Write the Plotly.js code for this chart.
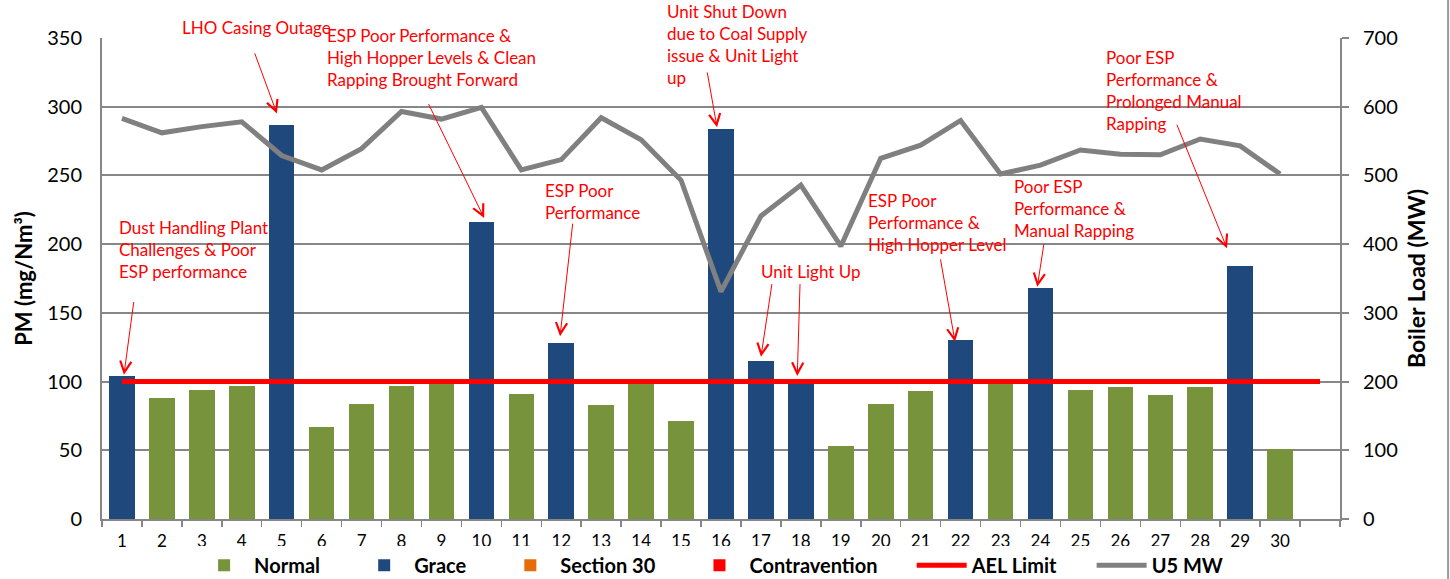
<!DOCTYPE html>
<html>
<head>
<meta charset="utf-8">
<script src="https://cdn.plot.ly/plotly-3.0.1.min.js"></script>
<style>
  html, body { margin: 0; padding: 0; background: #fff; }
  #plot { width: 1450px; height: 579px; }
</style>
</head>
<body>
<div id="plot"></div>
<script>
const days = [1, 2, 3, 4, 5, 6, 7, 8, 9, 10, 11, 12, 13, 14, 15, 16, 17, 18, 19, 20, 21, 22, 23, 24, 25, 26, 27, 28, 29, 30];

// PM (mg/Nm3) per day, split by compliance status
const normalPM = [null, 88, 94, 97, null, 67, 84, 97, 99, null, 91, null, 83, 98, 71, null, null, null, 53, 84, 93, null, 99, null, 94, 96, 90, 96, null, 51];
const gracePM = [104, null, null, null, 287, null, null, null, null, 216, null, 128, null, null, null, 284, 115, 102, null, null, null, 130, null, 168, null, null, null, null, 184, null];
const section30PM = days.map(() => null);
const contraventionPM = days.map(() => null);

// AEL limit runs one category past the last day
const aelDays = [1, 2, 3, 4, 5, 6, 7, 8, 9, 10, 11, 12, 13, 14, 15, 16, 17, 18, 19, 20, 21, 22, 23, 24, 25, 26, 27, 28, 29, 30, 31];
const aelLimit = [100, 100, 100, 100, 100, 100, 100, 100, 100, 100, 100, 100, 100, 100, 100, 100, 100, 100, 100, 100, 100, 100, 100, 100, 100, 100, 100, 100, 100, 100, 100];

// Unit 5 boiler load (MW)
const u5MW = [583, 562, 571, 578, 529, 508, 539, 593, 582, 599, 508, 523, 584, 552, 493, 331, 441, 486, 397, 525, 544, 580, 502, 515, 537, 531, 530, 553, 543, 502];

// event notes: text top-left (x in days, y in PM units) and arrow tail/head
const notes = [
  {text: 'Dust Handling Plant<br>Challenges & Poor<br>ESP performance', x: 0.88, y: 221, tail: [1.30, 159], head: [1.05, 105]},
  {text: 'LHO Casing Outage', x: 2.45, y: 367, tail: [4.31, 340], head: [4.88, 295]},
  {text: 'ESP Poor Performance &<br>High Hopper Levels & Clean<br>Rapping Brought Forward', x: 6.08, y: 361, tail: [8.66, 303], head: [10.07, 219]},
  {text: 'ESP Poor<br>Performance', x: 11.54, y: 248, tail: [12.29, 216], head: [11.97, 133]},
  {text: 'Unit Shut Down<br>due to Coal Supply<br>issue & Unit Light<br>up', x: 14.60, y: 378.5, tail: [15.65, 326], head: [15.90, 285]},
  {text: 'Unit Light Up', x: 16.95, y: 189, tail: [17.28, 172], head: [17.00, 118]},
  {text: '', x: null, y: null, tail: [17.98, 172], head: [17.91, 104]},
  {text: 'ESP Poor<br>Performance &<br>High Hopper Level', x: 19.63, y: 241, tail: [21.49, 190], head: [21.86, 129]},
  {text: 'Poor ESP<br>Performance &<br>Manual Rapping', x: 23.29, y: 251, tail: [24.09, 201], head: [23.92, 169]},
  {text: 'Poor ESP<br>Performance &<br>Prolonged Manual<br>Rapping', x: 25.59, y: 345, tail: [27.40, 288], head: [28.67, 197]}
];

const gridGrey = '#878787';
const font = 'Lato, "Open Sans", sans-serif';
const pad = '\u00a0\u00a0\u00a0\u00a0\u00a0\u00a0';

const data = [
  {x: days, y: normalPM, name: 'Normal' + pad, type: 'bar', marker: {color: '#77933C'}},
  {x: days, y: gracePM, name: 'Grace' + pad, type: 'bar', marker: {color: '#1F497D'}},
  {x: days, y: section30PM, name: 'Section 30' + pad, type: 'bar', marker: {color: '#E46C0A'}},
  {x: days, y: contraventionPM, name: 'Contravention' + pad, type: 'bar', marker: {color: '#FF0000'}},
  {x: aelDays, y: aelLimit, name: 'AEL Limit' + pad, type: 'scatter', mode: 'lines',
   line: {color: '#FF0000', width: 5}},
  {x: days, y: u5MW, name: 'U5 MW', type: 'scatter', mode: 'lines', yaxis: 'y2',
   line: {color: '#808080', width: 5}}
];

const annotations = [];
notes.forEach(function(n) {
  if (n.text) {
    annotations.push({
      text: n.text, x: n.x, y: n.y / 350, xref: 'x', yref: 'paper',
      xanchor: 'left', yanchor: 'top', align: 'left', showarrow: false,
      font: {family: font, size: 17, color: '#FF0000'}
    });
  }
  annotations.push({
    text: '', x: n.head[0], y: n.head[1], ax: n.tail[0], ay: n.tail[1],
    xref: 'x', yref: 'y', axref: 'x', ayref: 'y',
    showarrow: true, arrowhead: 5, arrowsize: 2.2, arrowwidth: 1,
    arrowcolor: '#FF0000', standoff: 0
  });
});

const boundaries = aelDays.map(d => d - 0.5).concat([31.5]);

const layout = {
  width: 1450,
  height: 579,
  margin: {l: 102, r: 110, t: 38, b: 60, autoexpand: false},
  paper_bgcolor: '#fff',
  plot_bgcolor: '#fff',
  font: {family: font, color: '#000'},
  barmode: 'stack',
  bargap: 0.36,
  showlegend: true,
  legend: {
    orientation: 'h', x: 0.492, xanchor: 'center', y: -0.096, yanchor: 'middle',
    font: {family: font, size: 20, weight: 'bold'}, itemwidth: 50, traceorder: 'normal'
  },
  xaxis: {
    range: [0.5, 31.5],
    tickmode: 'array', tickvals: days, ticktext: days.map(String),
    ticks: '', ticklabelstandoff: 6,
    tickfont: {family: font, size: 17, color: '#000'},
    showgrid: false, zeroline: false,
    showline: true, linecolor: gridGrey, linewidth: 2,
    minor: {tickmode: 'array', tickvals: boundaries, ticks: 'outside', ticklen: 6,
            tickcolor: gridGrey, tickwidth: 1.5, showgrid: false}
  },
  yaxis: {
    range: [0, 350], dtick: 50,
    title: {text: 'PM (mg/Nm³)', font: {family: font, size: 22, weight: 'bold'}, standoff: 8},
    tickfont: {family: font, size: 20, color: '#000'},
    ticks: '', ticklabelstandoff: 14,
    showgrid: true, gridcolor: gridGrey, gridwidth: 2,
    zeroline: false, showline: true, linecolor: gridGrey, linewidth: 2
  },
  yaxis2: {
    range: [0, 700], dtick: 100, overlaying: 'y', side: 'right',
    title: {text: 'Boiler Load (MW)', font: {family: font, size: 23, weight: 'bold'}, standoff: 12},
    tickfont: {family: font, size: 20, color: '#000'},
    ticks: 'outside', ticklen: 7, tickcolor: gridGrey, tickwidth: 2, ticklabelstandoff: 10,
    showgrid: false, zeroline: false, showline: true, linecolor: gridGrey, linewidth: 2
  },
  annotations: annotations,
  shapes: [
    {type: 'line', xref: 'paper', yref: 'paper', x0: 1.0873, x1: 1.0873, y0: -0.125, y1: 1.08,
     line: {color: '#9a9a9a', width: 2}}
  ]
};

Plotly.newPlot('plot', data, layout, {displayModeBar: false, staticPlot: true});
</script>
</body>
</html>
